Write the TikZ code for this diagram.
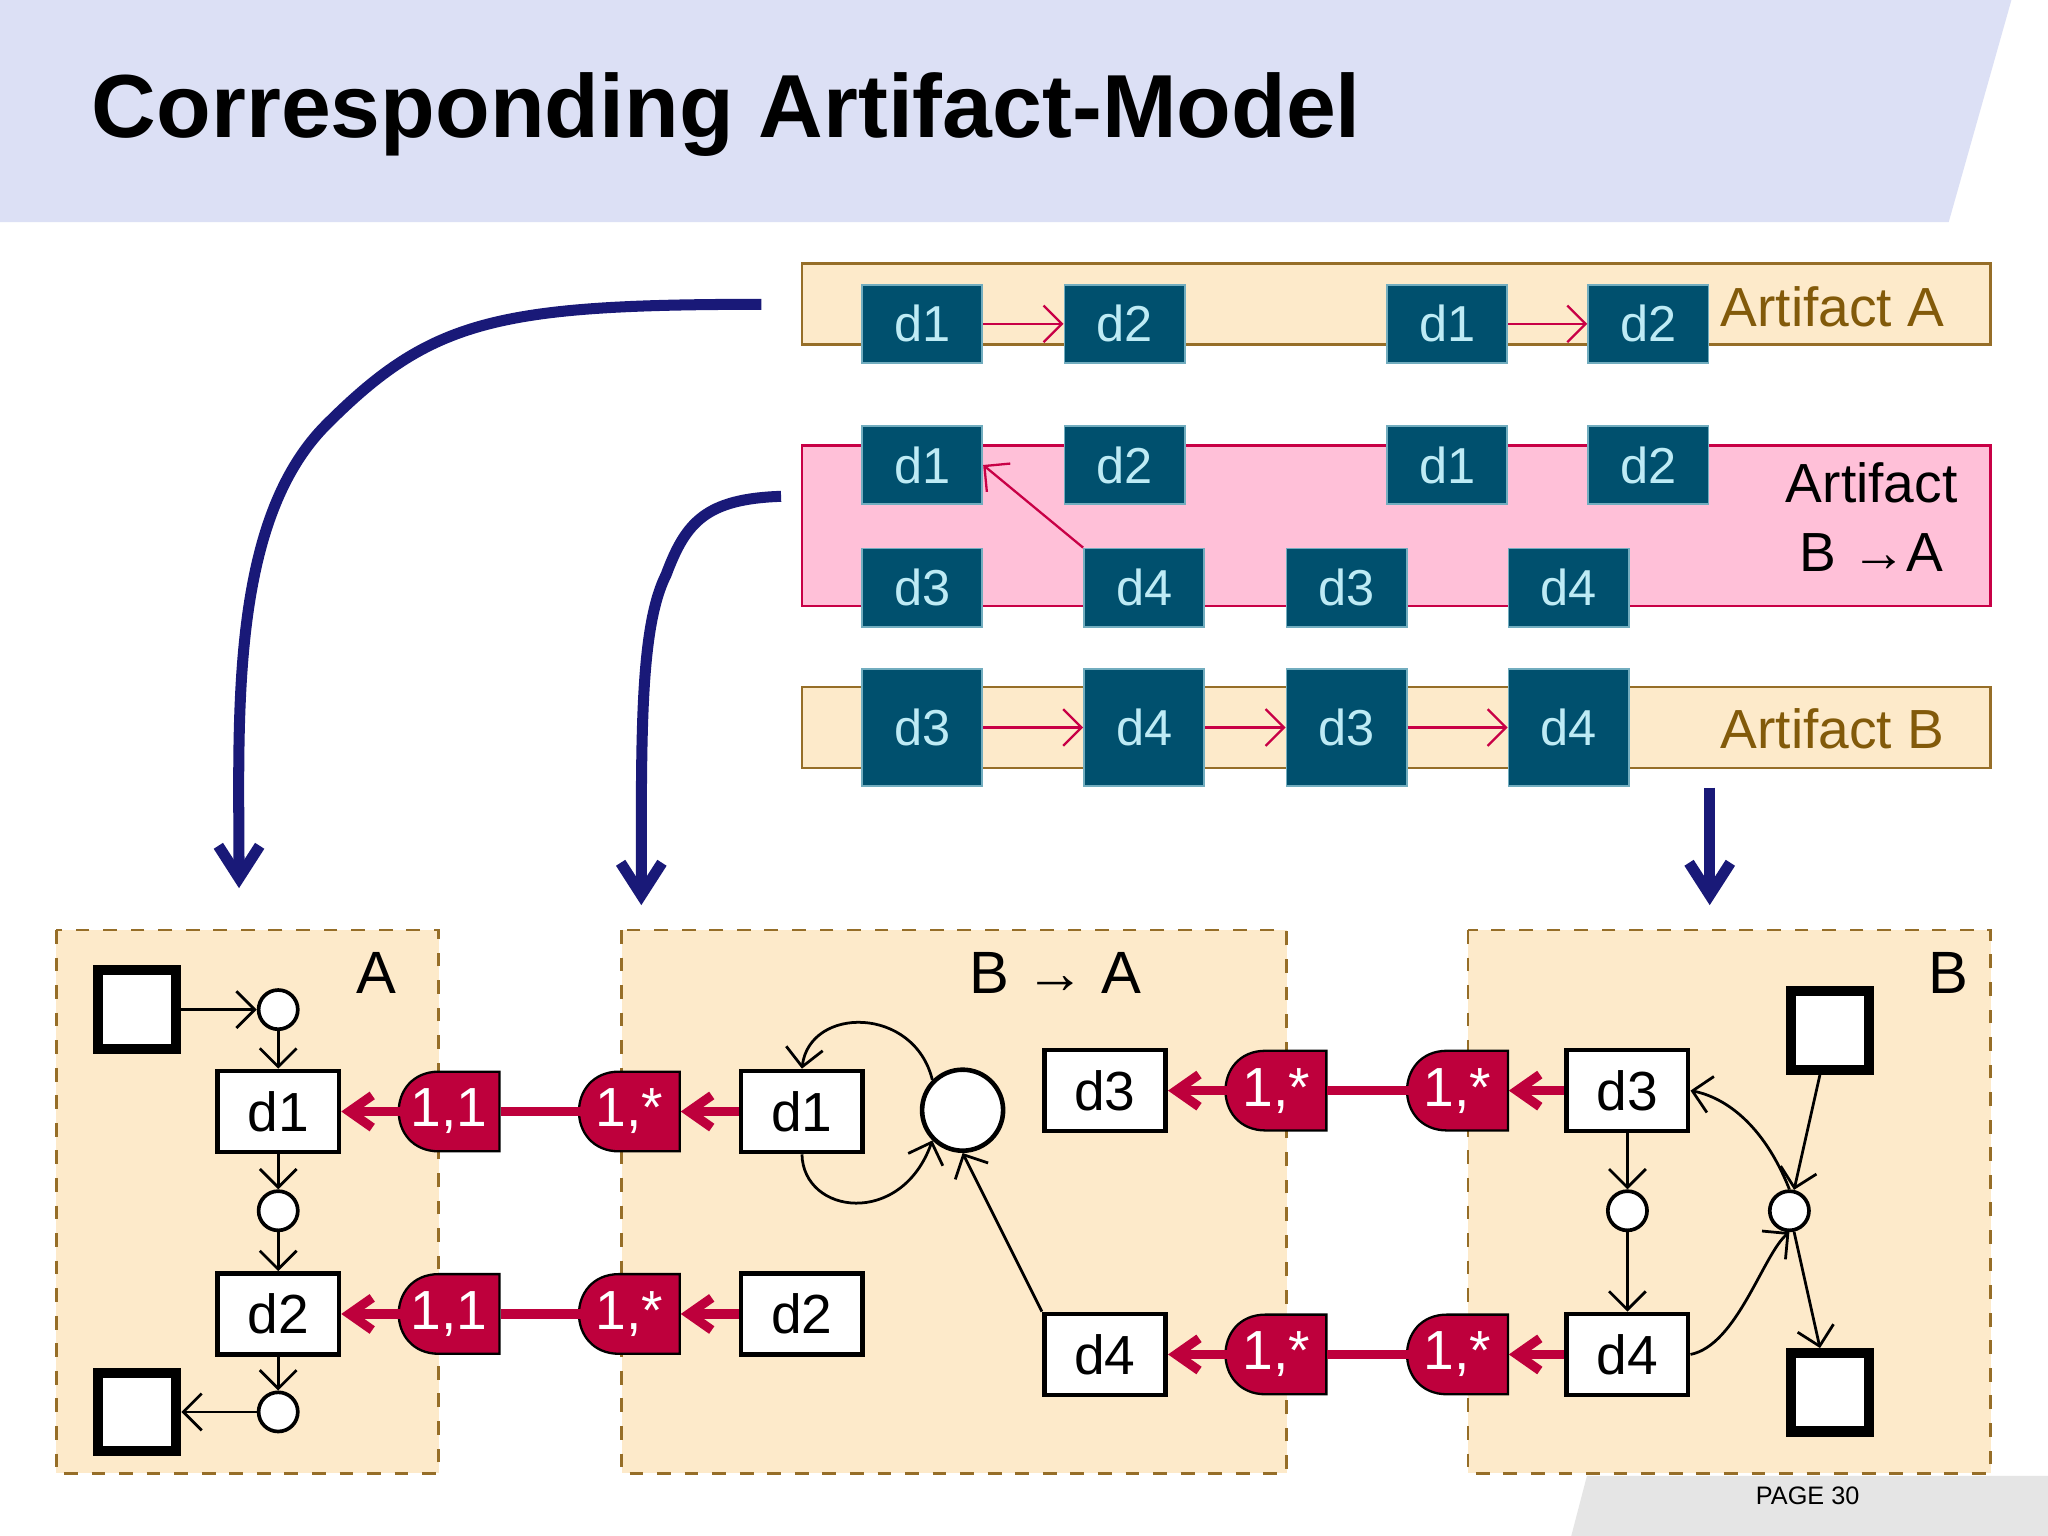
\documentclass[tikz,border=0pt]{standalone}
\usepackage{fontspec}
\setmainfont{Liberation Sans}
\usetikzlibrary{arrows.meta,calc}
\definecolor{hdrband}{RGB}{220,224,245}
\definecolor{peach}{RGB}{253,234,202}
\definecolor{brownline}{RGB}{150,110,40}
\definecolor{browntext}{RGB}{130,90,10}
\definecolor{pinkband}{RGB}{255,192,216}
\definecolor{crimson}{RGB}{200,0,70}
\definecolor{teal}{RGB}{0,80,110}
\definecolor{tealtext}{RGB}{190,235,245}
\definecolor{navy}{RGB}{25,25,120}
\definecolor{tagred}{RGB}{190,0,60}
\tikzset{
  dbox/.style={draw=tealtext!60!teal,fill=teal,text=tealtext,minimum width=0.92cm,minimum height=0.6cm,inner sep=0pt,font=\fontsize{11}{13}\selectfont},
  band/.style={draw=brownline,fill=peach,line width=0.6pt},
  thin/.style={->,>={Straight Barb[length=4pt]},crimson,line width=0.5pt},
  big/.style={->,>={Straight Barb[length=7pt,width=9pt]},navy,line width=2.4pt},
  cont/.style={draw=brownline,fill=peach,dashed,line width=0.6pt},
  wbox/.style={draw,fill=white,line width=1pt,minimum width=0.93cm,minimum height=0.62cm,inner sep=0pt,font=\fontsize{12}{14}\selectfont},
  sq/.style={draw,fill=white,line width=2.2pt,minimum size=0.6cm,inner sep=0pt},
  pl/.style={draw,fill=white,circle,line width=0.8pt,minimum size=0.3cm,inner sep=0pt},
  arc/.style={->,>={Straight Barb[length=4pt]},line width=0.6pt},
  rarr/.style={->,>={Straight Barb[length=5pt,width=7pt]},tagred,line width=2pt},
  rline/.style={tagred,line width=2pt},
  tagf/.style={fill=tagred,draw=black,line width=0.5pt},
  tagt/.style={text=white,font=\fontsize{12}{14}\selectfont,inner sep=0pt,minimum width=0.77cm,minimum height=0.61cm}
}
% tag: name, centre x, centre y, text
\newcommand\mytag[4]{%
  \path[tagf] (#2+38.5,#3-30.5) -- (#2-8,#3-30.5) .. controls (#2-49,#3-30.5) and (#2-49,#3+30.5) .. (#2-8,#3+30.5) -- (#2+38.5,#3+30.5) -- cycle;
  \node[tagt] (#1) at (#2,#3) {#4};}
\begin{document}
\begin{tikzpicture}[x=0.01cm,y=-0.01cm]
\useasboundingbox (0,0) rectangle (1568,1176);
\fill[white] (0,0) rectangle (1568,1176);
% header
\fill[hdrband] (0,0) -- (1540,0) -- (1492,170) -- (0,170) -- cycle;
\node[anchor=west,font=\fontsize{19.5}{23}\selectfont\bfseries] (title) at (58,88) {Corresponding Artifact-Model};
\fill[black!10] (1215,1130) -- (1568,1130) -- (1568,1176) -- (1203,1176) -- cycle;
\node[font=\fontsize{5.5}{7}\selectfont] (page) at (1384,1145) {PAGE 30};
% artifact bands
\path[band] (614,202) rectangle (1524,264);
\node[text=browntext,font=\fontsize{12}{14}\selectfont] (la) at (1403,235) {Artifact A};
\path[draw=crimson,fill=pinkband,line width=0.6pt] (614,341) rectangle (1524,464);
\node[align=center,font=\fontsize{12}{15}\selectfont] (lba) at (1433,396) {Artifact\\B →A};
\path[band] (614,526) rectangle (1524,588);
\node[text=browntext,font=\fontsize{12}{14}\selectfont] (lb) at (1403,558) {Artifact B};
% row 1
\node[dbox] (a1) at (706,248) {d1};
\node[dbox] (a2) at (861,248) {d2};
\node[dbox] (a3) at (1108,248) {d1};
\node[dbox] (a4) at (1262,248) {d2};
\draw[thin] (a1) -- (a2);
\draw[thin] (a3) -- (a4);
% row 2
\node[dbox] (b1) at (706,356) {d1};
\node[dbox] (b2) at (861,356) {d2};
\node[dbox] (b3) at (1108,356) {d1};
\node[dbox] (b4) at (1262,356) {d2};
\node[dbox] (c1) at (706,450) {d3};
\node[dbox] (c2) at (876,450) {d4};
\node[dbox] (c3) at (1031,450) {d3};
\node[dbox] (c4) at (1201,450) {d4};
\draw[thin] (c2.north west) -- (b1.east);
% row 3
\node[dbox,minimum height=0.9cm] (e1) at (706,557) {d3};
\node[dbox,minimum height=0.9cm] (e2) at (876,557) {d4};
\node[dbox,minimum height=0.9cm] (e3) at (1031,557) {d3};
\node[dbox,minimum height=0.9cm] (e4) at (1201,557) {d4};
\draw[thin] (e1) -- (e2);
\draw[thin] (e2) -- (e3);
\draw[thin] (e3) -- (e4);
% navy arrows
\coordinate (s1) at (583,233);
\coordinate (t1) at (183,680);
\coordinate (s2) at (598,380);
\coordinate (t2) at (491,693);
\coordinate (s3) at (1309,603);
\coordinate (t3) at (1309,693);
\draw[big] (s1) .. controls (380,233) and (330,245) .. (250,325) .. controls (175,400) and (183,550) .. (t1);
\draw[big] (s2) .. controls (540,382) and (525,400) .. (510,440) .. controls (490,480) and (491,560) .. (t2);
\draw[big] (s3) -- (t3);
% containers
\path[cont] (43,712) rectangle (336,1128);
\path[cont] (476,712) rectangle (985,1128);
\path[cont] (1124,712) rectangle (1524,1128);
\node[font=\fontsize{13}{15}\selectfont] (ca) at (288,745) {A};
\node[font=\fontsize{13}{15}\selectfont] (cba) at (808,745) {B → A};
\node[font=\fontsize{13}{15}\selectfont] (cb) at (1492,745) {B};
% model A
\node[sq] (As) at (105,773) {};
\node[pl] (Ap1) at (213,773) {};
\node[wbox] (Ad1) at (213,851) {d1};
\node[pl] (Ap2) at (213,927) {};
\node[wbox] (Ad2) at (213,1006) {d2};
\node[pl] (Ap3) at (213,1081) {};
\node[sq] (Ae) at (105,1081) {};
\draw[arc] (As) -- (Ap1);
\draw[arc] (Ap1) -- (Ad1);
\draw[arc] (Ad1) -- (Ap2);
\draw[arc] (Ap2) -- (Ad2);
\draw[arc] (Ad2) -- (Ap3);
\draw[arc] (Ap3) -- (Ae);
% model B->A
\node[wbox] (Bd1) at (614,851) {d1};
\node[wbox] (Bd2) at (614,1006) {d2};
\node[draw,fill=white,circle,line width=1pt,minimum size=0.62cm,inner sep=0pt] (Bp) at (737,850) {};
\node[wbox] (Bd3) at (846,835) {d3};
\node[wbox] (Bd4) at (846,1037) {d4};
\draw[arc] (Bp.north west) .. controls (700,770) and (620,770) .. (Bd1.north);
\draw[arc] (Bd1.south) .. controls (615,930) and (690,940) .. (Bp.south west);
\draw[arc] (Bd4.north west) -- (Bp.south);
% model B
\node[wbox] (Cd3) at (1246,835) {d3};
\node[pl] (Cp1) at (1246,927) {};
\node[wbox] (Cd4) at (1246,1037) {d4};
\node[sq] (Cs) at (1401,789) {};
\node[pl] (Cp2) at (1370,927) {};
\node[sq] (Ce) at (1401,1066) {};
\draw[arc] (Cd3) -- (Cp1);
\draw[arc] (Cp1) -- (Cd4);
\draw[arc] (Cs) -- (Cp2);
\draw[arc] (Cp2) -- (Ce);
\draw[arc] (Cd4.east) .. controls (1330,1030) and (1350,960) .. (Cp2.south);
\draw[arc] (Cp2.north) .. controls (1350,860) and (1320,840) .. (Cd3.east);
% mapping tags
\mytag{t1}{344}{851}{1,1}
\mytag{t2}{482}{851}{1,*}
\mytag{t3}{344}{1006}{1,1}
\mytag{t4}{482}{1006}{1,*}
\mytag{t5}{977}{835}{1,*}
\mytag{t6}{1116}{835}{1,*}
\mytag{t7}{977}{1037}{1,*}
\mytag{t8}{1116}{1037}{1,*}
\draw[rline] (t1.east) -- ($(t2.west)+(4,0)$);
\draw[rline] (t3.east) -- ($(t4.west)+(4,0)$);
\draw[rline] (t5.east) -- ($(t6.west)+(4,0)$);
\draw[rline] (t7.east) -- ($(t8.west)+(4,0)$);
\draw[rarr] ($(t1.west)+(4,0)$) -- (Ad1.east);
\draw[rarr] ($(t3.west)+(4,0)$) -- (Ad2.east);
\draw[rarr] (Bd1.west) -- (t2.east);
\draw[rarr] (Bd2.west) -- (t4.east);
\draw[rarr] ($(t5.west)+(4,0)$) -- (Bd3.east);
\draw[rarr] ($(t7.west)+(4,0)$) -- (Bd4.east);
\draw[rarr] (Cd3.west) -- (t6.east);
\draw[rarr] (Cd4.west) -- (t8.east);
\end{tikzpicture}
\end{document}
